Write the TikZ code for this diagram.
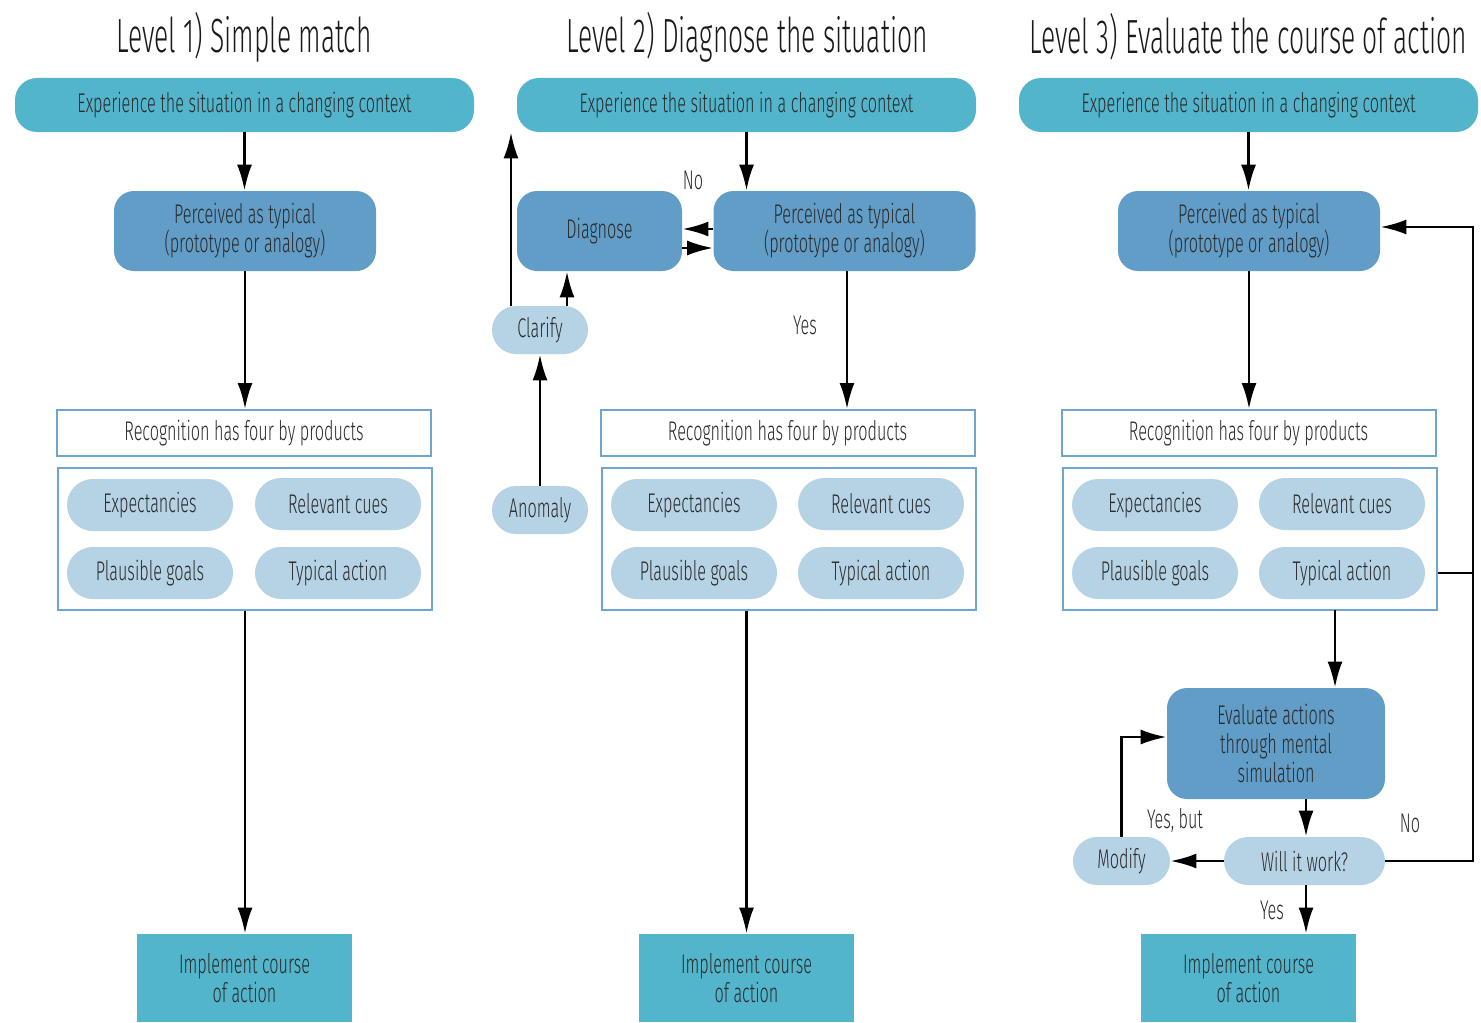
\documentclass[tikz,border=0pt]{standalone}
\usepackage{fontspec}
\setmainfont{Fira Sans Light}[FakeStretch=0.6]
\newfontfamily\headfont{Fira Sans Light}[FakeStretch=0.55]
\usetikzlibrary{arrows.meta,calc}
\definecolor{teal}{HTML}{52B5CC}
\definecolor{midblue}{HTML}{619DC6}
\definecolor{lightblue}{HTML}{B5D3E5}
\definecolor{edgeblue}{HTML}{6FA6D0}
\definecolor{ink}{HTML}{2A2A2A}
\begin{document}
\begin{tikzpicture}[x=0.5pt,y=-0.5pt,
  every node/.style={font=\fontsize{13.5}{14.5}\selectfont, text=ink, align=center, inner sep=0pt},
  topbox/.style={fill=teal, draw=none, rounded corners=11pt, minimum width=229.5pt, minimum height=27pt},
  percbox/.style={fill=midblue, draw=none, rounded corners=10pt, minimum width=131pt, minimum height=40pt},
  recbox/.style={fill=white, draw=edgeblue, line width=1pt, minimum width=187pt, minimum height=23pt},
  grpbox/.style={fill=white, draw=edgeblue, line width=1pt, minimum width=187pt, minimum height=71pt},
  pill/.style={fill=lightblue, draw=none, rounded corners=13pt, minimum width=83pt, minimum height=26pt},
  smallpill/.style={fill=lightblue, draw=none, rounded corners=12pt, minimum width=48pt, minimum height=24pt},
  implbox/.style={fill=teal, draw=none, minimum width=107.5pt, minimum height=44pt},
  title/.style={font=\headfont\fontsize{24}{28}\selectfont, text=black!90},
  lbl/.style={font=\fontsize{13.5}{15.5}\selectfont, text=ink},
  arr/.style={-{Latex[length=13pt,width=7.5pt]}, line width=1.3pt, black},
  ln/.style={line width=1.3pt, black}]
\useasboundingbox (0,0) rectangle (1481,1022);

% titles
\node[title] (t1) at (244,37) {Level 1) Simple match};
\node[title] (t2) at (747,37) {Level 2) Diagnose the situation};
\node[title] (t3) at (1248,37) {Level 3) Evaluate the course of action};

% column 1
\node[topbox] (top1) at (244.5,105) {Experience the situation in a changing context};
\node[percbox] (perc1) at (245,231) {Perceived as typical\\(prototype or analogy)};
\node[recbox] (rec1) at (244,433) {Recognition has four by products};
\node[grpbox] (grp1) at (245,539) {};
\node[pill] (exp1) at (150,505) {Expectancies};
\node[pill] (rel1) at (338,504) {Relevant cues};
\node[pill] (pla1) at (150,573) {Plausible goals};
\node[pill] (typ1) at (338,573) {Typical action};
\node[implbox] (impl1) at (244.5,978) {Implement course\\of action};

\draw[arr] (top1.south) -- (top1.south |- perc1.north);
\draw[arr] (perc1.south) -- (perc1.south |- rec1.north);
\draw[arr] (grp1.south) -- (grp1.south |- impl1.north);

% column 2
\node[topbox] (top2) at (746.5,105) {Experience the situation in a changing context};
\node[percbox] (perc2) at (844.5,231) {Perceived as typical\\(prototype or analogy)};
\node[percbox, minimum width=82.5pt] (diag) at (599.5,231) {Diagnose};
\node[smallpill] (clar) at (540,330) {Clarify};
\node[smallpill] (anom) at (540,510) {Anomaly};
\node[recbox] (rec2) at (787.5,433) {Recognition has four by products};
\node[grpbox] (grp2) at (788.5,539) {};
\node[pill] (exp2) at (694,505) {Expectancies};
\node[pill] (rel2) at (881,504) {Relevant cues};
\node[pill] (pla2) at (694,573) {Plausible goals};
\node[pill] (typ2) at (881,573) {Typical action};
\node[implbox] (impl2) at (746.5,978) {Implement course\\of action};

% connector ends in column 2
\coordinate (pw1) at ($(perc2.west)+(0,-2)$);
\coordinate (pw2) at ($(perc2.west)+(0,17)$);
\coordinate (ys) at ($(perc2.south)+(2.5,0)$);
\coordinate (cr) at (567,306);
\coordinate (cl) at (511,306);

\draw[arr] (top2.south) -- (top2.south |- perc2.north);
\draw[arr] (pw1) -- (pw1 -| diag.east);
\draw[arr] (pw2 -| diag.east) -- (pw2);
\draw[arr] (ys) -- (ys |- rec2.north);
\draw[arr] (cr) -- (cr |- diag.south);
\draw[arr] (cl) -- (cl |- top2.south);
\draw[arr] (anom.north) -- (clar.south);
\draw[arr] (grp2.south -| top2.south) -- (top2.south |- impl2.north);
\node[lbl] (no2) at (693,180) {No};
\node[lbl] (yes2) at (805,325) {Yes};

% column 3
\node[topbox] (top3) at (1248.5,105) {Experience the situation in a changing context};
\node[percbox] (perc3) at (1249,231) {Perceived as typical\\(prototype or analogy)};
\node[recbox] (rec3) at (1248.5,433) {Recognition has four by products};
\node[grpbox] (grp3) at (1249.5,539) {};
\node[pill] (exp3) at (1155,505) {Expectancies};
\node[pill] (rel3) at (1342,504) {Relevant cues};
\node[pill] (pla3) at (1155,573) {Plausible goals};
\node[pill] (typ3) at (1342,573) {Typical action};
\node[percbox, minimum width=109pt, minimum height=55.5pt] (eval) at (1276,743.5) {Evaluate actions\\through mental\\simulation};
\node[smallpill, minimum width=80.5pt] (will) at (1304.5,861) {Will it work?};
\node[smallpill, minimum width=48.5pt] (mod) at (1121.5,861) {Modify};
\node[implbox] (impl3) at (1248.5,978) {Implement course\\of action};

% connector ends in column 3
\coordinate (rt) at (1473,227);
\coordinate (ge) at (1335,610);
\coordinate (ew) at (1306,799);
\coordinate (mw) at ($(eval.west)+(0,-6.5)$);

\draw[arr] (top3.south) -- (top3.south |- perc3.north);
\draw[arr] (perc3.south) -- (perc3.south |- rec3.north);
\draw[arr] (ge) -- (ge |- eval.north);
\draw[arr] (ew) -- (ew |- will.north);
\draw[arr] (will.west) -- (mod.east);
\draw[arr] (mod.north) |- (mw);
\draw[arr] (will.east) -| (rt) -- (rt -| perc3.east);
\draw[ln] (grp3.east |- typ3.east) -- (rt |- typ3.east);
\draw[arr] (ew |- will.south) -- (ew |- impl3.north);
\node[lbl] (yb) at (1175,820) {Yes, but};
\node[lbl] (no3) at (1410,823) {No};
\node[lbl] (yes3) at (1272,910) {Yes};
\end{tikzpicture}
\end{document}
